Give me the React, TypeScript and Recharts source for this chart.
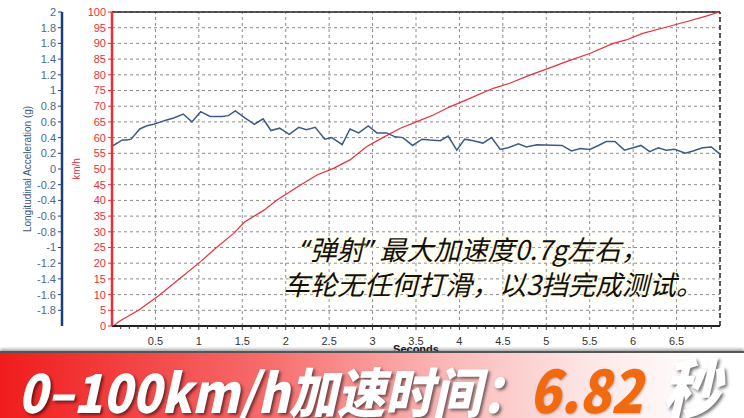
import React from "react";
import {
  LineChart,
  Line,
  XAxis,
  YAxis,
  CartesianGrid,
  ReferenceLine,
} from "recharts";

// longitudinal acceleration (g) trace
const accelTime = [
  0.0, 0.12, 0.17, 0.22, 0.32, 0.4, 0.48, 0.56, 0.62, 0.71, 0.82, 0.92, 1.02,
  1.13, 1.27, 1.34, 1.42, 1.53, 1.64, 1.74, 1.83, 1.93, 2.04, 2.15, 2.24, 2.34,
  2.45, 2.53, 2.65, 2.74, 2.84, 2.95, 3.05, 3.16, 3.26, 3.35, 3.46, 3.57, 3.66,
  3.78, 3.87, 3.97, 4.06, 4.16, 4.27, 4.37, 4.47, 4.56, 4.68, 4.77, 4.89, 5.18,
  5.29, 5.39, 5.5, 5.6, 5.69, 5.79, 5.9, 6.0, 6.09, 6.19, 6.29, 6.38, 6.48, 6.6,
  6.69, 6.8, 6.9, 7.0,
];
const accelG = [
  0.29, 0.37, 0.37, 0.38, 0.51, 0.55, 0.57, 0.6, 0.62, 0.65, 0.7, 0.6, 0.73,
  0.67, 0.67, 0.68, 0.74, 0.65, 0.57, 0.64, 0.49, 0.52, 0.44, 0.53, 0.5, 0.53,
  0.38, 0.4, 0.31, 0.51, 0.46, 0.55, 0.46, 0.46, 0.41, 0.4, 0.3, 0.38, 0.37,
  0.36, 0.42, 0.24, 0.38, 0.36, 0.33, 0.4, 0.25, 0.27, 0.32, 0.28, 0.31, 0.3,
  0.23, 0.26, 0.25, 0.3, 0.35, 0.35, 0.24, 0.27, 0.3, 0.22, 0.27, 0.24, 0.25,
  0.2, 0.23, 0.27, 0.28, 0.19,
];

// speed (km/h) trace
const speedTime = [
  0.02, 0.08, 0.31, 0.54, 0.77, 1.02, 1.19, 1.4, 1.53, 1.75, 1.9, 2.17, 2.36,
  2.55, 2.74, 2.93, 3.09, 3.32, 3.51, 3.7, 3.89, 4.08, 4.39, 4.58, 4.81, 5.08,
  5.23, 5.5, 5.77, 5.92, 6.11, 6.3, 6.61, 6.84, 6.99,
];
const speedKmh = [
  0, 1.4, 5.1, 9.7, 14.9, 20.5, 24.7, 29.5, 33.2, 36.9, 40.1, 44.9, 48.1, 50.2,
  52.9, 57.1, 59.6, 63.0, 65.1, 67.2, 69.8, 72.0, 75.7, 77.3, 79.9, 82.6, 84.2,
  86.8, 90.0, 91.1, 93.2, 94.6, 96.9, 98.7, 100,
];

const secondTicks = [0.5, 1, 1.5, 2, 2.5, 3, 3.5, 4, 4.5, 5, 5.5, 6, 6.5];
const gTicks = [
  2, 1.8, 1.6, 1.4, 1.2, 1, 0.8, 0.6, 0.4, 0.2, 0, -0.2, -0.4, -0.6, -0.8, -1,
  -1.2, -1.4, -1.6, -1.8,
];
const kmhTicks = [
  0, 5, 10, 15, 20, 25, 30, 35, 40, 45, 50, 55, 60, 65, 70, 75, 80, 85, 90, 95,
  100,
];

const accelData = accelTime.map((t, i) => ({ t, g: accelG[i] }));
const speedData = speedTime.map((t, i) => ({ t, v: speedKmh[i] }));
// minor tick marks every 0.1 s
const minorTicks = Array.from({ length: 69 }, (_, i) => Number(((i + 1) / 10).toFixed(1)));

const AXIS_FONT = "'Liberation Sans', Arial, sans-serif";
const CJK_FONT = "'Noto Sans CJK SC', sans-serif";
const BLUE = "#3d5c85";
const RED = "#e8303a";
const KMH = "axis1_kmh";
const GAX = "axis2_g";

const TimeTick = (props: any) => {
  const { x, y, payload } = props;
  const v = payload.value;
  const major = Math.abs(v * 2 - Math.round(v * 2)) < 1e-6;
  return (
    <g>
      <line x1={x} x2={x} y1={y} y2={y + (major ? 4 : 3)} stroke="#333" strokeWidth={1} />
      {major && (
        <text x={x} y={y + 19} textAnchor="middle" fontSize={11} fill="#333" fontFamily={AXIS_FONT}>
          {v}
        </text>
      )}
    </g>
  );
};

const AxisTitle = (props: any) => {
  const { viewBox, value, fill, dx } = props;
  const cx = viewBox.x + dx;
  const cy = viewBox.y + viewBox.height / 2;
  return (
    <text
      x={cx}
      y={cy}
      transform={`rotate(-90, ${cx}, ${cy})`}
      textAnchor="middle"
      fontSize={10}
      fill={fill}
      fontFamily={AXIS_FONT}
    >
      {value}
    </text>
  );
};

const quote = { fontFamily: "'Noto Sans', sans-serif" };

export default function App() {
  return (
    <div style={{ position: "fixed", left: 0, top: 0, width: 744, height: 418, background: "#fff", overflow: "hidden" }}>
      <LineChart
        width={744}
        height={356}
        margin={{ top: 12, right: 24, bottom: 0, left: 12 }}
      >
        <CartesianGrid
          yAxisId={KMH}
          vertical={false}
          stroke="#8a8a8a"
          strokeDasharray="3 3"
        />
        {secondTicks.map((s) => (
          <ReferenceLine key={s} x={s} yAxisId={KMH} stroke="#8a8a8a" strokeDasharray="3 3" />
        ))}
        <XAxis
          type="number"
          dataKey="t"
          domain={[0, 7]}
          ticks={minorTicks}
          interval={0}
          allowDataOverflow
          height={30}
          tickLine={false}
          tickSize={0}
          tickMargin={0}
          axisLine={{ stroke: "#222", strokeWidth: 2 }}
          tick={<TimeTick />}
          label={{
            value: "Seconds",
            position: "insideBottom",
            offset: 3,
            style: { fontSize: 11, fontWeight: "bold", fill: "#222", fontFamily: AXIS_FONT },
          }}
        />
        <YAxis
          yAxisId={KMH}
          domain={[0, 100]}
          ticks={kmhTicks}
          interval={0}
          width={50}
          tickSize={4}
          tickMargin={2}
          axisLine={{ stroke: RED, strokeWidth: 2.5 }}
          tickLine={{ stroke: RED }}
          tick={{ fontSize: 11, fill: RED, fontFamily: AXIS_FONT }}
          label={<AxisTitle value="km/h" fill={RED} dx={18} />}
        />
        <YAxis
          yAxisId={GAX}
          domain={[-2, 2]}
          ticks={gTicks}
          interval={0}
          width={50}
          tickSize={4}
          tickMargin={2}
          axisLine={{ stroke: "#1d3f78", strokeWidth: 2.5 }}
          tickLine={{ stroke: "#1d3f78" }}
          tick={{ fontSize: 11, fill: "#4a6890", fontFamily: AXIS_FONT }}
          label={<AxisTitle value="Longitudinal Acceleration (g)" fill="#3a5a8a" dx={19} />}
        />
        <ReferenceLine y={100} yAxisId={KMH} stroke="#222" strokeWidth={1.5} />
        <ReferenceLine x={7} yAxisId={KMH} stroke="#222" strokeWidth={1.5} strokeDasharray="5 3" />
        <Line
          data={accelData}
          yAxisId={GAX}
          dataKey="g"
          type="linear"
          stroke={BLUE}
          strokeWidth={1.5}
          dot={false}
          isAnimationActive={false}
        />
        <Line
          data={speedData}
          yAxisId={KMH}
          dataKey="v"
          type="linear"
          stroke={RED}
          strokeWidth={1.2}
          dot={false}
          isAnimationActive={false}
        />
      </LineChart>

      <div
        style={{
          position: "absolute",
          left: 283,
          top: 232,
          fontFamily: CJK_FONT,
          fontSize: 27,
          fontStyle: "italic",
          lineHeight: "34px",
          color: "#111",
          textShadow: "0 0 4px #fffbe0, 0 0 8px #fff6c8",
          whiteSpace: "nowrap",
        }}
      >
        <div style={{ paddingLeft: 17 }}>
          <span style={quote}>“</span>弹射<span style={quote}>”</span> 最大加速度0.7g左右，
        </div>
        <div>车轮无任何打滑，以3挡完成测试。</div>
      </div>

      <div
        style={{
          position: "absolute",
          left: 0,
          top: 351,
          width: 744,
          height: 67,
          borderTop: "2px solid #555",
          boxShadow: "0 -2px 3px rgba(0,0,0,0.35)",
          background: "linear-gradient(to right, #f01c1c 0%, #f66a6a 35%, #fbb8b8 60%, #fde8e8 80%, #ffffff 95%)",
          fontFamily: CJK_FONT,
          fontWeight: 900,
          fontStyle: "italic",
          whiteSpace: "nowrap",
        }}
      >
        <div
          style={{
            position: "absolute",
            left: 18,
            top: 0,
            height: 64,
            lineHeight: "64px",
            fontSize: 48,
            color: "#fff",
            textShadow: "2px 2px 3px rgba(0,0,0,0.55)",
            transform: "scaleY(1.12)",
          }}
        >
          0–100km/h加速时间：
          <span style={{ fontSize: 52, color: "#f26a10", textShadow: "1px 1px 2px rgba(0,0,0,0.25)" }}>6.82</span>
          <span style={{ fontSize: 58, marginLeft: 20 }}>秒</span>
        </div>
      </div>
    </div>
  );
}
